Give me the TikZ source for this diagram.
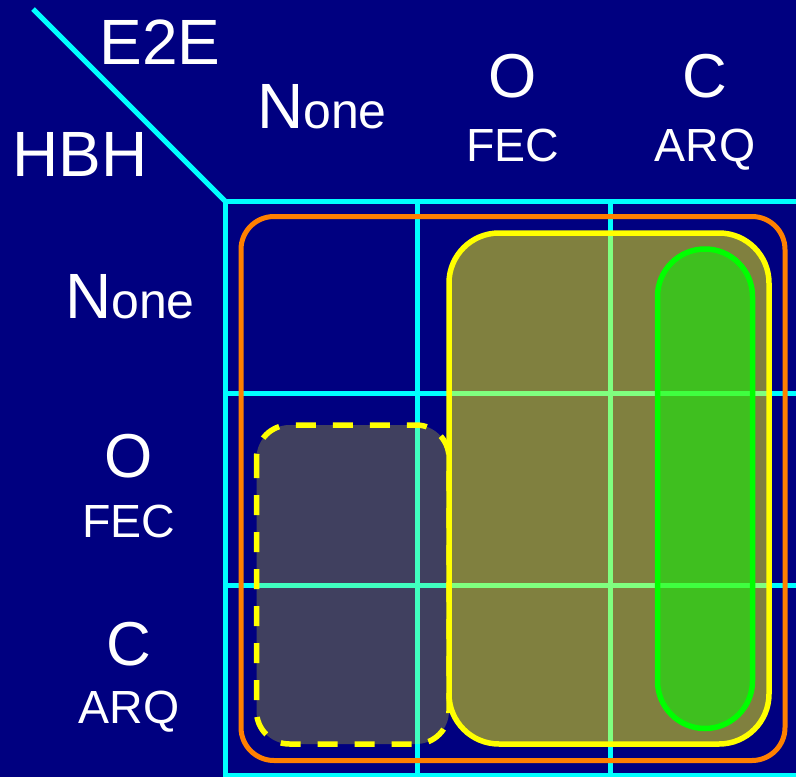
\documentclass[tikz,border=0pt]{standalone}
\usepackage{fontspec}
\setmainfont{Liberation Sans}
\usepackage{xcolor}
\newcommand{\tailsize}[1]{{\fontsize{50pt}{50pt}\selectfont #1}}
\definecolor{slidenavy}{HTML}{000080}
\definecolor{gridcyan}{HTML}{00FFFF}
\definecolor{boxorange}{HTML}{FF8000}
\definecolor{boxyellow}{HTML}{FFFF00}
\definecolor{boxgreen}{HTML}{00FF00}

\begin{document}
\begin{tikzpicture}[
  x=1pt,
  y=-1pt,
  every node/.style={white, inner sep=0pt},
  big/.style={font=\fontsize{64pt}{64pt}\selectfont, anchor=base},
  mode/.style={font=\fontsize{62pt}{62pt}\selectfont, anchor=base},
  proto/.style={font=\fontsize{46.5pt}{46.5pt}\selectfont, anchor=base},
  grid/.style={gridcyan, line width=5pt},
  outer/.style={boxorange, line width=5pt, rounded corners=33pt},
  coded/.style={boxyellow, line width=5.5pt, rounded corners=50pt,
    fill=boxyellow, fill opacity=0.5, draw opacity=1},
  maybe/.style={boxyellow, line width=5.5pt, rounded corners=33pt,
    dash pattern=on 20pt off 17pt,
    fill=boxyellow, fill opacity=0.25, draw opacity=1},
  retx/.style={boxgreen, line width=5.5pt, rounded corners=47.5pt,
    fill=boxgreen, fill opacity=0.5, draw opacity=1}
]
  % ---- slide background ------------------------------------------------
  \fill[slidenavy] (0,0) rectangle (796,777);
  \useasboundingbox (0,0) rectangle (796,777);

  % ---- table grid ------------------------------------------------------
  \draw[grid] (33,9) -- (225,201);
  \foreach \gx in {225,417,610}
    \draw[grid] (\gx,201) -- (\gx,780);
  \foreach \gy in {201,393,585,775}
    \draw[grid] (225,\gy) -- (800,\gy);

  % ---- corner labels ---------------------------------------------------
  \node[big] (e2e) at (160,64) {E2E};
  \node[big] (hbh) at (80,176) {HBH};

  % ---- column heads: end to end ----------------------------------------
  \node[big] (colnone) at (322,128) {N\tailsize{one}};
  \node[mode] (colo) at (513,97) {O};
  \node[proto] (colfec) at (513,161) {FEC};
  \node[mode] (colc) at (705,97) {C};
  \node[proto] (colarq) at (705,161) {ARQ};

  % ---- row heads: hop by hop -------------------------------------------
  \node[big] (rownone) at (130,318) {N\tailsize{one}};
  \node[mode] (rowo) at (129,477) {O};
  \node[proto] (rowfec) at (129,537) {FEC};
  \node[mode] (rowc) at (129,665) {C};
  \node[proto] (rowarq) at (129,723) {ARQ};

  % ---- regions ---------------------------------------------------------
  \draw[outer] (241,216.5) rectangle (785,760.5);
  \draw[maybe] (256.5,425) rectangle (449,744);
  \draw[coded] (449,233) rectangle (769,744);
  \draw[retx] (657.5,249) rectangle (752.5,728.5);
\end{tikzpicture}
\end{document}
